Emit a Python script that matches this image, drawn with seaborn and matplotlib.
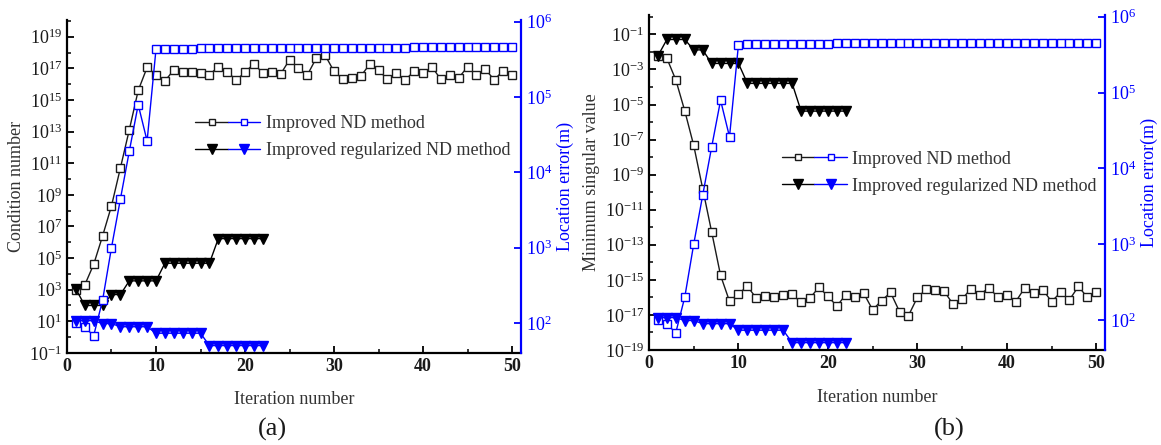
import numpy as np
import matplotlib
matplotlib.use("Agg")
import matplotlib.pyplot as plt
import seaborn as sns
from matplotlib.ticker import FixedLocator, LogFormatterSciNotation, MultipleLocator, NullFormatter
from matplotlib.legend_handler import HandlerTuple
from matplotlib.lines import Line2D

sns.set_theme(style="ticks")
plt.rcParams['font.family'] = ['Liberation Serif', 'DejaVu Serif']
plt.rcParams['mathtext.fontset'] = 'stix'

BLUE = '#0000ff'
DARK = '#1a1a1a'

# ---- data ----
iters_nd = list(range(1, 51))
iters_reg = list(range(1, 23))

cond_nd = [1.0e3, 2.0e3, 4.0e4, 2.5e6, 2.0e8, 5.0e10, 1.3e13, 4.0e15, 1.15e17, 4.0e16,
           1.6e16, 8.0e16, 5.6e16, 6.3e16, 5.0e16, 4.0e16, 1.26e17, 6.3e16, 1.8e16, 5.6e16,
           2.0e17, 5.0e16, 6.3e16, 4.4e16, 3.5e17, 1.05e17, 3.8e16, 4.4e17, 6.8e17, 6.5e16,
           2.1e16, 2.3e16, 3.2e16, 1.8e17, 7.6e16, 2.1e16, 4.9e16, 1.9e16, 6.5e16, 4.9e16,
           1.26e17, 2.0e16, 4.1e16, 2.5e16, 1.26e17, 3.8e16, 8.7e16, 1.9e16, 7.2e16, 3.6e16]

cond_reg = [1.1e3, 1.0e2, 1.0e2, 1.0e2, 4.9e2, 4.9e2, 3.6e3, 3.6e3, 3.6e3, 3.6e3, 4.7e4,
            4.7e4, 4.7e4, 4.7e4, 4.7e4, 4.7e4, 1.7e6, 1.7e6, 1.7e6, 1.7e6, 1.7e6, 1.7e6]

minsv_nd = [6.0e-3, 4.3e-3, 2.5e-4, 4.3e-6, 4.6e-8, 1.6e-10, 5.5e-13, 1.8e-15, 6.0e-17, 1.6e-16,
            4.3e-16, 8.9e-17, 1.15e-16, 1.0e-16, 1.3e-16, 1.5e-16, 5.2e-17, 9.3e-17, 3.8e-16, 1.15e-16,
            3.2e-17, 1.45e-16, 1.1e-16, 1.7e-16, 1.95e-17, 6.6e-17, 1.9e-16, 1.55e-17, 9.1e-18, 1.0e-16,
            2.9e-16, 2.6e-16, 2.2e-16, 4.0e-17, 8.1e-17, 3.2e-16, 1.45e-16, 3.6e-16, 1.0e-16, 1.45e-16,
            5.8e-17, 3.5e-16, 1.8e-16, 2.8e-16, 5.8e-17, 1.9e-16, 7.4e-17, 4.2e-16, 1.0e-16, 2.1e-16]

minsv_reg = [6.0e-3, 5.1e-2, 5.1e-2, 5.1e-2, 1.3e-2, 1.3e-2, 2.2e-3, 2.2e-3, 2.2e-3, 2.2e-3, 1.6e-4,
             1.6e-4, 1.6e-4, 1.6e-4, 1.6e-4, 1.6e-4, 4.2e-6, 4.2e-6, 4.2e-6, 4.2e-6, 4.2e-6, 4.2e-6]

loc_err_nd = [100, 87, 68, 200, 1000, 4400, 19000, 79000, 26000, 4.30e5,
              4.35e5, 4.35e5, 4.35e5, 4.35e5, 4.40e5, 4.40e5, 4.40e5, 4.40e5, 4.40e5, 4.40e5,
              4.45e5, 4.45e5, 4.45e5, 4.45e5, 4.45e5, 4.45e5, 4.45e5, 4.45e5, 4.50e5, 4.50e5,
              4.50e5, 4.50e5, 4.50e5, 4.50e5, 4.50e5, 4.50e5, 4.50e5, 4.50e5, 4.55e5, 4.55e5,
              4.55e5, 4.55e5, 4.55e5, 4.55e5, 4.55e5, 4.55e5, 4.55e5, 4.55e5, 4.55e5, 4.55e5]

loc_err_reg = [107, 107, 107, 98, 98, 89, 89, 89, 89, 73, 73,
               73, 73, 73, 73, 50, 50, 50, 50, 50, 50, 50]

legend_labels = ['Improved ND method', 'Improved regularized ND method']

FS = 13


def draw_series(ax, x, y, color, marker, filled, ms):
    sns.lineplot(x=x, y=y, ax=ax, color=color, linewidth=1.0, marker=marker,
                 markersize=ms, markeredgewidth=1.0, markeredgecolor=color,
                 markerfacecolor=(color if filled else 'white'),
                 errorbar=None, legend=False, sort=False)
    return ax.get_lines()[-1]


def style_panel(ax, ax2, ylabel, major_exp, minor_exp, ylim):
    ax.set_yscale('log')
    ax2.set_yscale('log')
    ax.set_xlim(0, 51)
    ax.set_ylim(*ylim)
    ax2.set_ylim(40, 1.05e6)
    ax.xaxis.set_major_locator(MultipleLocator(10))
    ax.xaxis.set_minor_locator(MultipleLocator(5))
    ax.yaxis.set_major_locator(FixedLocator([10.0 ** e for e in major_exp]))
    ax.yaxis.set_minor_locator(FixedLocator([10.0 ** e for e in minor_exp]))
    ax.yaxis.set_major_formatter(LogFormatterSciNotation())
    ax.yaxis.set_minor_formatter(NullFormatter())
    ax2.yaxis.set_major_locator(FixedLocator([1e2, 1e3, 1e4, 1e5, 1e6]))
    ax2.yaxis.set_minor_locator(FixedLocator([]))
    ax2.yaxis.set_major_formatter(LogFormatterSciNotation())

    for a in (ax, ax2):
        a.spines['top'].set_visible(False)
    ax.spines['right'].set_visible(False)
    ax2.spines['left'].set_visible(False)
    ax2.spines['bottom'].set_visible(False)
    for s in ('left', 'bottom'):
        ax.spines[s].set_linewidth(1.6)
        ax.spines[s].set_color('black')
    ax2.spines['right'].set_linewidth(1.6)
    ax2.spines['right'].set_color(BLUE)

    ax.tick_params(axis='both', which='major', direction='in', length=5, width=1.3,
                   labelsize=FS, colors='black', labelcolor=DARK)
    ax.tick_params(axis='both', which='minor', direction='in', length=3, width=1.1, colors='black')
    ax2.tick_params(axis='y', which='major', direction='in', length=5, width=1.3,
                    labelsize=FS, colors=BLUE, labelcolor=BLUE)
    for lab in ax.get_xticklabels():
        lab.set_fontweight('bold')

    ax.set_xlabel('Iteration number', fontsize=FS, color='#333333', labelpad=12)
    ax.set_ylabel(ylabel, fontsize=FS, color='#333333', labelpad=3)
    ax2.set_ylabel('Location error(m)', fontsize=FS, color=BLUE, labelpad=3)
    ax.grid(False)
    ax2.grid(False)


fig = plt.figure(figsize=(11.61, 4.45), dpi=100)

panels = [
    dict(rect=[0.0577, 0.207, 0.391, 0.748], left=(cond_nd, cond_reg), ylabel='Condition number',
         major=list(range(-1, 20, 2)), minor=list(range(0, 21, 2)), ylim=(0.1, 1.15e20),
         leg=(0.283, 0.715), tag='(a)', tag_x=0.235),
    dict(rect=[0.559, 0.2135, 0.393, 0.7525], left=(minsv_nd, minsv_reg), ylabel='Minimum singular value',
         major=list(range(-19, 0, 2)), minor=list(range(-18, 1, 2)), ylim=(1e-19, 1.25),
         leg=(0.291, 0.595), tag='(b)', tag_x=0.818),
]

for p in panels:
    ax = fig.add_axes(p['rect'])
    ax2 = ax.twinx()
    y_nd, y_reg = p['left']
    draw_series(ax, iters_nd, y_nd, DARK, 's', False, 5.3)
    draw_series(ax, iters_reg, y_reg, 'black', 'v', True, 7)
    draw_series(ax2, iters_nd, loc_err_nd, BLUE, 's', False, 5.3)
    draw_series(ax2, iters_reg, loc_err_reg, BLUE, 'v', True, 7)
    style_panel(ax, ax2, p['ylabel'], p['major'], p['minor'], p['ylim'])

    h1 = (Line2D([], [], color=DARK, lw=1, marker='s', ms=5, mfc='white', mec=DARK),
          Line2D([], [], color=BLUE, lw=1, marker='s', ms=5, mfc='white', mec=BLUE))
    h2 = (Line2D([], [], color='black', lw=1, marker='v', ms=6.5, mfc='black', mec='black'),
          Line2D([], [], color=BLUE, lw=1, marker='v', ms=6.5, mfc=BLUE, mec=BLUE))
    leg = ax2.legend([h1, h2], legend_labels, handler_map={tuple: HandlerTuple(ndivide=None, pad=0)},
                     loc='upper left', bbox_to_anchor=p['leg'], frameon=False, fontsize=FS,
                     handlelength=3.6, handletextpad=0.3, labelspacing=0.55, borderpad=0,
                     borderaxespad=0)
    for t in leg.get_texts():
        t.set_color('#333333')

    fig.text(p['tag_x'], 0.035, p['tag'], fontsize=19, color=DARK, ha='center', va='center')

fig.savefig('out.png', dpi=100)
